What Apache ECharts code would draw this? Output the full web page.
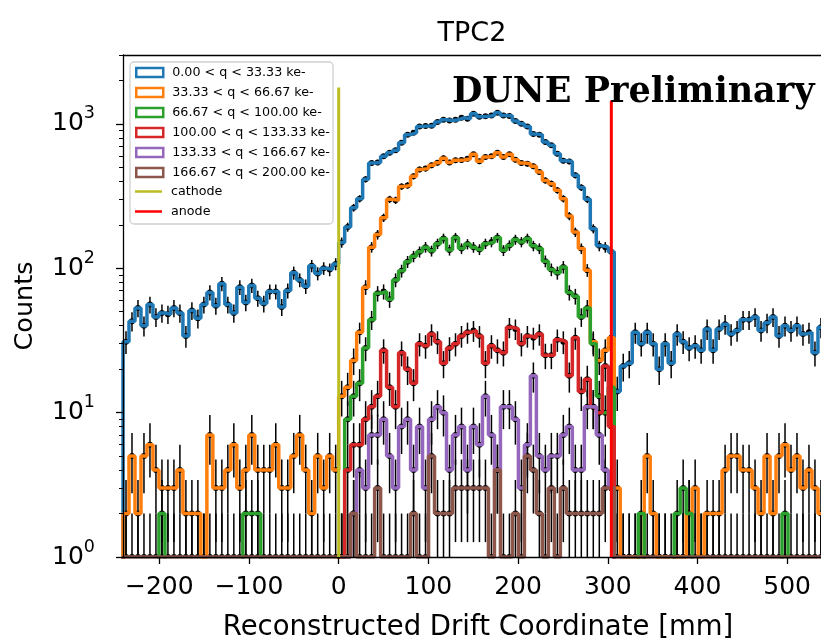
<!DOCTYPE html>
<html>
<head>
<meta charset="utf-8">
<script src="https://cdn.jsdelivr.net/npm/echarts@6/dist/echarts.min.js"></script>
<style>
  html, body { margin: 0; padding: 0; background: #fff; }
  #chart { width: 821px; height: 639px; }
</style>
</head>
<body>
<div id="chart"></div>
<script>
// Histogram binning along the drift coordinate (mm)
const binStart = -240.5;
const binWidth = 6.68;

// Series labels (charge ranges)
const seriesNames = [
  '0.00 < q < 33.33 ke-',
  '33.33 < q < 66.67 ke-',
  '66.67 < q < 100.00 ke-',
  '100.00 < q < 133.33 ke-',
  '133.33 < q < 166.67 ke-',
  '166.67 < q < 200.00 ke-'
];

// Counts per bin for each charge range
const counts0 = [
  31, 43, 53, 40, 56, 46, 49, 48, 53, 49, 34, 51, 45, 56, 68, 55, 78, 56, 49, 74,
  58, 76, 62, 57, 69, 69, 54, 70, 93, 83, 75, 104, 92, 100, 98, 107,
  151, 193, 263, 303, 413, 535, 541, 596, 632, 656, 741, 842, 869, 961, 968, 972,
  1030, 1070, 1057, 1070, 1104, 1087, 1177, 1120, 1130, 1145, 1195, 1145, 1132, 1045,
  1003, 961, 850, 842, 748, 710, 622, 556, 549, 440, 362, 300, 188, 143, 140, 130,
  14, 21, 22, 36, 30, 36, 30, 20, 30, 22, 35, 31, 28, 29, 27, 38, 27, 38, 41, 35,
  37, 44, 44, 46, 37, 42, 46, 34, 40, 37, 40, 35, 36, 26, 39
];
const counts1 = [
  2, 5, 2, 5, 6, 4, 3, 3, 3, 4, 2, 2, 2, 1, 7, 3, 3, 4, 6, 3,
  4, 7, 4, 4, 4, 6, 3, 3, 5, 7, 4, 2, 5, 3, 5, 4,
  13, 15, 23, 36, 74, 140, 171, 224, 300, 296, 368, 375, 433, 484, 490, 516,
  539, 579, 541, 559, 562, 574, 615, 550, 590, 596, 632, 589, 615, 565,
  535, 530, 508, 464, 406, 385, 347, 303, 230, 178, 137, 97, 31, 23, 27, 33,
  3, 1, 1, 1, 1, 5, 2, 1, 1, 0, 1, 1, 2, 3, 1, 2, 2, 2, 4, 5,
  5, 4, 4, 3, 2, 5, 2, 5, 6, 4, 5, 3, 4, 3, 2
];
const counts2 = [
  0, 0, 0, 0, 0, 0, 2, 0, 0, 0, 0, 0, 0, 0, 0, 0, 0, 0, 0, 0,
  2, 2, 2, 0, 0, 0, 0, 0, 0, 0, 0, 0, 0, 0, 0, 0,
  1, 9, 13, 16, 28, 44, 67, 69, 61, 83, 96, 111, 121, 130, 140, 132,
  148, 161, 134, 163, 137, 147, 140, 135, 148, 152, 163, 133, 144, 158,
  152, 161, 143, 137, 112, 98, 93, 102, 68, 64, 46, 53, 30, 13, 10, 15,
  0, 0, 0, 0, 2, 0, 0, 0, 0, 0, 2, 3, 2, 0, 0, 0, 0, 0, 0, 0,
  0, 0, 0, 0, 0, 0, 0, 0, 2, 0, 0, 0, 0, 0, 0
];
const counts3 = [
  0, 0, 0, 0, 0, 0, 0, 0, 0, 0, 0, 0, 0, 0, 0, 0, 0, 0, 0, 0,
  0, 0, 0, 0, 0, 0, 0, 0, 0, 0, 0, 0, 0, 0, 0, 0,
  1, 4, 6, 6, 9, 11, 13, 27, 15, 11, 26, 20, 16, 30, 29, 35,
  31, 22, 28, 30, 34, 36, 37, 34, 22, 29, 27, 26, 39, 38,
  30, 34, 33, 35, 25, 25, 32, 31, 18, 33, 14, 17, 11, 10, 21, 8,
  0, 0, 0, 0, 0, 0, 0, 0, 0, 0, 0, 0, 0, 0, 0, 0, 0, 0, 0, 0,
  0, 0, 0, 0, 0, 0, 0, 0, 0, 0, 0, 0, 0, 0, 0
];
const counts4 = [
  0, 0, 0, 0, 0, 0, 0, 0, 0, 0, 0, 0, 0, 0, 0, 0, 0, 0, 0, 0,
  0, 0, 0, 0, 0, 0, 0, 0, 0, 0, 0, 0, 0, 0, 0, 0,
  0, 1, 2, 4, 3, 7, 7, 9, 5, 3, 8, 9, 4, 8, 3, 9,
  11, 10, 4, 7, 8, 4, 8, 6, 13, 7, 4, 11, 11, 9,
  3, 6, 18, 5, 4, 5, 5, 7, 8, 4, 4, 11, 11, 7, 4, 3,
  0, 0, 0, 0, 0, 0, 0, 0, 0, 0, 0, 0, 0, 0, 0, 0, 0, 0, 0, 0,
  0, 0, 0, 0, 0, 0, 0, 0, 0, 0, 0, 0, 0, 0, 0
];
const counts5 = [
  1, 1, 1, 1, 1, 1, 1, 1, 1, 1, 1, 1, 1, 1, 1, 1, 1, 1, 1, 1,
  1, 1, 1, 1, 1, 1, 1, 1, 1, 1, 1, 1, 1, 1, 1, 1,
  1, 1, 2, 1, 1, 1, 3, 1, 1, 1, 1, 1, 2, 1, 1, 5,
  2, 2, 2, 3, 3, 3, 3, 3, 3, 1, 4, 1, 1, 2,
  1, 5, 4, 2, 1, 3, 1, 3, 2, 2, 2, 2, 2, 2, 3, 3,
  1, 1, 1, 1, 1, 1, 1, 1, 1, 1, 1, 1, 1, 1, 1, 1, 1, 1, 1, 1,
  1, 1, 1, 1, 1, 1, 1, 1, 1, 1, 1, 1, 1, 1, 1
];

// Detector boundary markers: position (mm) and drawn height (counts)
const cathodeX = 0;
const cathodeTop = 1790;
const anodeX = 304;
const anodeTop = 1450;

// Axis ticks
const xTicks = [-200, -100, 0, 100, 200, 300, 400, 500];
const yTicks = [1, 10, 100, 1000];
const yMinorTicks = [2, 3, 4, 5, 6, 7, 8, 9, 20, 30, 40, 50, 60, 70, 80, 90,
  200, 300, 400, 500, 600, 700, 800, 900, 2000, 3000];

const allCounts = [counts0, counts1, counts2, counts3, counts4, counts5];
const colors = ['#1f77b4', '#ff7f0e', '#2ca02c', '#d62728', '#9467bd', '#8c564b'];

const X_MIN = -240.5, X_MAX = 540, Y_MIN = 1, Y_MAX = 3000;
const BELOW = 0.1; // empty bins fall below the log axis and get clipped

function edge(j) { return binStart + j * binWidth; }

function stepPoints(counts) {
  const pts = [[edge(0), BELOW]];
  counts.forEach((c, j) => {
    const v = c > 0 ? c : BELOW;
    pts.push([edge(j), v], [edge(j + 1), v]);
  });
  pts.push([edge(counts.length), BELOW]);
  return pts;
}

function errorPoints(counts) {
  const pts = [];
  counts.forEach((c, j) => {
    if (c > 0) pts.push([edge(j) + binWidth / 2, c, Math.sqrt(c)]);
  });
  return pts;
}

function renderErrorBar(params, api) {
  const x = api.value(0), v = api.value(1), e = api.value(2);
  const lo = Math.max(v - e, 0.3);
  const c = api.coord([x, v]);
  const top = api.coord([x, v + e]);
  const bot = api.coord([x, lo]);
  const cs = params.coordSys;
  return {
    type: 'group',
    clipPath: { type: 'rect', shape: { x: cs.x, y: cs.y, width: cs.width, height: cs.height } },
    children: [
      { type: 'line', shape: { x1: c[0], y1: top[1], x2: c[0], y2: bot[1] },
        style: { stroke: '#000', lineWidth: 1.5 } },
      { type: 'circle', shape: { cx: c[0], cy: c[1], r: 3 }, style: { fill: '#000' } }
    ]
  };
}

const series = [];
allCounts.forEach((counts, i) => {
  series.push({
    name: seriesNames[i],
    type: 'line',
    data: stepPoints(counts),
    showSymbol: false,
    symbol: 'none',
    clip: true,
    lineStyle: { color: colors[i], width: 3.5 },
    itemStyle: { color: colors[i] },
    z: 2,
    silent: true
  });
  series.push({
    name: 'err' + i,
    type: 'custom',
    data: errorPoints(counts),
    encode: { x: 0, y: 1 },
    renderItem: renderErrorBar,
    clip: true,
    z: 2,
    silent: true
  });
});
series.push({
  name: 'cathode', type: 'line', symbol: 'none',
  data: [[cathodeX, Y_MIN], [cathodeX, cathodeTop]],
  lineStyle: { color: '#bcbd22', width: 3 }, itemStyle: { color: '#bcbd22' }, z: 5, silent: true
});
series.push({
  name: 'anode', type: 'line', symbol: 'none',
  data: [[anodeX, Y_MIN], [anodeX, anodeTop]],
  lineStyle: { color: '#ff0000', width: 3 }, itemStyle: { color: '#ff0000' }, z: 5, silent: true
});

const FONT = 'DejaVu Sans';
const legendText = { fontFamily: FONT, fontSize: 12.7, color: '#000', lineHeight: 15, padding: [0, 0, 0, 4] };

const option = {
  animation: false,
  backgroundColor: '#fff',
  title: {
    text: 'TPC2', left: 467, top: 15, textAlign: 'center',
    textStyle: { fontFamily: FONT, fontSize: 27, fontWeight: 'normal', color: '#000' }
  },
  grid: { left: 123, top: 55, bottom: 82, right: -2, outerBoundsMode: 'none', containLabel: false },
  xAxis: [{
    type: 'value', min: X_MIN, max: X_MAX, position: 'bottom', z: 4,
    name: 'Reconstructed Drift Coordinate [mm]', nameLocation: 'middle', nameGap: 57,
    nameTextStyle: { fontFamily: FONT, fontSize: 27.5, color: '#000', padding: [0, 0, 0, 10] },
    axisLine: { onZero: false, lineStyle: { color: '#000', width: 1.3 } },
    axisTick: { customValues: xTicks, length: 7, lineStyle: { color: '#000', width: 1.3 } },
    axisLabel: {
      customValues: xTicks, margin: 18,
      fontFamily: FONT, fontSize: 25, color: '#000',
      formatter: v => (v < 0 ? '\u2212' + Math.abs(v) : String(v))
    },
    splitLine: { show: false }
  }, {
    type: 'value', min: X_MIN, max: X_MAX, position: 'top', z: 4,
    axisLine: { show: true, onZero: false, lineStyle: { color: '#000', width: 1.3 } },
    axisTick: { show: false }, axisLabel: { show: false }, splitLine: { show: false }
  }],
  yAxis: [{
    type: 'log', logBase: 10, min: Y_MIN, max: Y_MAX, position: 'left', z: 4,
    name: 'Counts', nameLocation: 'middle', nameGap: 85,
    nameTextStyle: { fontFamily: FONT, fontSize: 25.5, color: '#000' },
    axisLine: { show: true, onZero: false, lineStyle: { color: '#000', width: 1.3 } },
    axisTick: { show: true, customValues: yTicks, length: 7, lineStyle: { color: '#000', width: 1.3 } },
    axisLabel: {
      customValues: yTicks, margin: 28,
      formatter: v => '{b|10}{e|' + Math.round(Math.log10(v)) + '}',
      rich: {
        b: { fontFamily: FONT, fontSize: 25, color: '#000' },
        e: { fontFamily: FONT, fontSize: 17.5, color: '#000', padding: [0, 0, 20, 0] }
      }
    },
    splitLine: { show: false }
  }, {
    type: 'log', logBase: 10, min: Y_MIN, max: Y_MAX, position: 'left', z: 4,
    axisLine: { show: false, onZero: false },
    axisTick: { show: true, customValues: yMinorTicks, length: 4, lineStyle: { color: '#000', width: 1 } },
    axisLabel: { show: false },
    splitLine: { show: false }
  }],
  legend: [{
    data: seriesNames.map((n, i) => ({
      name: n, icon: 'rect',
      itemStyle: { color: '#fff', borderColor: colors[i], borderWidth: 2.5 }
    })),
    orient: 'vertical', left: 130, top: 60, itemWidth: 27, itemHeight: 9, itemGap: 5,
    textStyle: legendText, selectedMode: false, z: 6
  }, {
    data: [
      { name: 'cathode', icon: 'rect', itemStyle: { color: '#bcbd22', borderWidth: 0 } },
      { name: 'anode', icon: 'rect', itemStyle: { color: '#ff0000', borderWidth: 0 } }
    ],
    orient: 'vertical', left: 130, top: 179, itemWidth: 27, itemHeight: 2.5, itemGap: 5,
    textStyle: legendText, selectedMode: false, z: 6
  }],
  graphic: [{
    type: 'rect', z: 5,
    shape: { x: 130, y: 62, width: 203, height: 162, r: 4 },
    style: { fill: 'rgba(255,255,255,0.85)', stroke: '#d0d0d0', lineWidth: 1.3 }
  }, {
    type: 'text', z: 7, x: 452, y: 93,
    style: {
      text: 'DUNE Preliminary', fill: '#000',
      font: 'bold 35px "DejaVu Serif"', verticalAlign: 'middle', align: 'left'
    }
  }],
  series: series
};

const chart = echarts.init(document.getElementById('chart'), null, { renderer: 'canvas' });
chart.setOption(option);
</script>
</body>
</html>
